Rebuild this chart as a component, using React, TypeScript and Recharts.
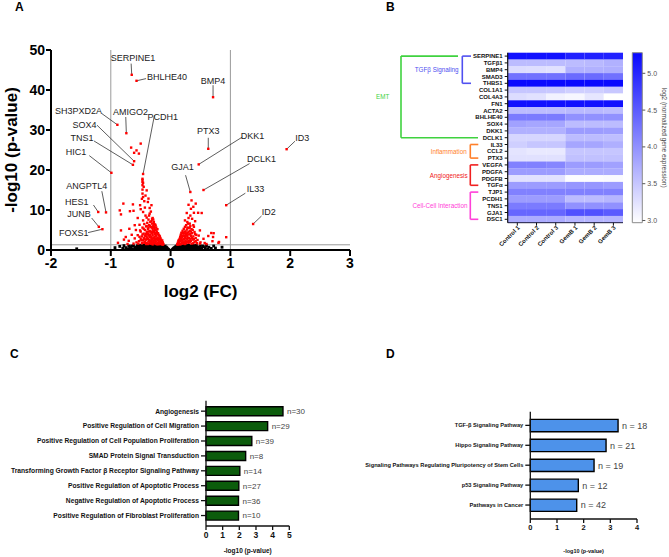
import React from 'react';
import {
  ScatterChart,
  Scatter,
  XAxis,
  YAxis,
  ReferenceLine,
  BarChart,
  Bar,
  Cell,
  LabelList,
} from 'recharts';

const FONT = '"Liberation Sans", Arial, Helvetica, sans-serif';

// ---------------- A: volcano plot ----------------
// [log2 fold change, -log10 p]
const notSignificant: [number, number][] = [
  [-1.57, 0.3], [-0.93, 0.6], [-0.85, 0.9], [-0.8, 0.4], [-0.78, 1.1], [-0.75, 0.6], [-0.72, 0.3],
  [-0.7, 1.0], [-0.68, 0.5], [-0.66, 0.8], [-0.64, 0.2], [-0.62, 1.1], [-0.6, 0.6], [-0.58, 0.4],
  [-0.56, 0.9], [-0.55, 1.2], [-0.53, 0.3], [-0.52, 0.7], [-0.5, 1.0], [-0.49, 0.5], [-0.47, 0.2],
  [-0.46, 0.8], [-0.45, 1.2], [-0.44, 0.4], [-0.43, 0.9], [-0.42, 0.6], [-0.41, 1.1], [-0.4, 0.3],
  [-0.39, 0.7], [-0.38, 1.0], [-0.37, 0.5], [-0.36, 1.25], [-0.35, 0.2], [-0.34, 0.8], [-0.33, 1.1],
  [-0.32, 0.4], [-0.31, 0.9], [-0.3, 0.6], [-0.29, 1.2], [-0.28, 0.3], [-0.27, 0.8], [-0.26, 1.0],
  [-0.25, 0.5], [-0.24, 1.2], [-0.23, 0.2], [-0.22, 0.7], [-0.21, 1.0], [-0.2, 0.4], [-0.19, 0.9],
  [-0.18, 1.2], [-0.17, 0.6], [-0.16, 0.3], [-0.15, 1.0], [-0.14, 0.7], [-0.13, 1.1], [-0.12, 0.4],
  [-0.11, 0.9], [-0.1, 0.6], [-0.09, 1.0], [-0.08, 0.3], [-0.07, 0.7], [-0.06, 0.5], [-0.05, 0.3],
  [-0.04, 0.2], [-0.03, 0.1], [0.03, 0.1], [0.04, 0.25], [0.05, 0.4], [0.06, 0.6], [0.07, 0.3],
  [0.08, 0.8], [0.09, 0.5], [0.1, 1.0], [0.11, 0.7], [0.12, 0.3], [0.13, 1.1], [0.14, 0.6],
  [0.15, 0.9], [0.16, 0.4], [0.17, 1.2], [0.18, 0.7], [0.19, 0.2], [0.2, 1.0], [0.21, 0.5],
  [0.22, 0.8], [0.23, 1.2], [0.24, 0.3], [0.25, 0.9], [0.26, 0.6], [0.27, 1.1], [0.28, 0.4],
  [0.29, 0.8], [0.3, 1.2], [0.31, 0.5], [0.32, 0.9], [0.33, 0.2], [0.34, 1.0], [0.35, 0.6],
  [0.36, 1.2], [0.37, 0.4], [0.38, 0.8], [0.4, 1.0], [0.41, 0.5], [0.43, 1.2], [0.44, 0.3],
  [0.46, 0.8], [0.48, 0.6], [0.5, 1.0], [0.52, 0.4], [0.55, 0.8], [0.58, 0.5], [0.6, 1.1],
  [0.64, 0.7], [0.68, 0.4], [0.72, 1.0], [0.75, 0.5], [0.86, 0.7],
  [-0.7, 0.2], [-0.65, 1.0], [-0.6, 0.2], [-0.57, 0.7], [-0.54, 0.5], [-0.51, 1.2], [-0.48, 0.9],
  [-0.45, 0.6], [-0.42, 0.2], [-0.4, 0.9], [-0.38, 0.4], [-0.35, 0.7], [-0.33, 0.5], [-0.3, 1.0],
  [-0.28, 0.7], [-0.26, 0.3], [-0.24, 0.8], [-0.22, 1.1], [-0.2, 0.7], [-0.18, 0.4], [-0.16, 0.9],
  [-0.14, 0.3], [-0.12, 0.8], [-0.1, 0.3], [-0.08, 0.6], [0.08, 0.5], [0.1, 0.4], [0.12, 0.8],
  [0.14, 0.3], [0.16, 1.0], [0.18, 0.5], [0.2, 0.7], [0.22, 0.3], [0.24, 1.0], [0.26, 0.4],
  [0.28, 1.0], [0.3, 0.3], [0.33, 0.7], [0.36, 0.3], [0.39, 1.1], [0.42, 0.8], [0.45, 0.5],
  [0.5, 0.3], [0.54, 1.0], [0.62, 0.3],
];

const significant: [number, number][] = [
  // down-regulated
  [-0.66, 25.6], [-0.5, 26.6], [-0.61, 24.3], [-0.53, 24.1], [-0.57, 24.9], [-0.47, 17.8],
  [-0.47, 17.0], [-0.47, 16.2], [-0.47, 15.1], [-0.4, 14.9], [-0.47, 14.1], [-0.46, 13.25],
  [-0.37, 12.85], [-0.63, 11.4], [-0.51, 11.2], [-0.32, 11.2], [-0.43, 10.6], [-0.85, 9.9],
  [-0.68, 9.7], [-0.83, 8.9], [-0.79, 11.6], [-0.35, 9.1], [-0.4, 8.1], [-0.46, 7.4], [-0.29, 7.6],
  [-0.6, 6.2], [-0.69, 5.3], [-0.83, 4.9], [-0.75, 3.25], [-0.51, 4.9],
  [-0.12, 1.5], [-0.13, 1.9], [-0.14, 1.4], [-0.15, 2.2], [-0.15, 1.7], [-0.16, 2.6], [-0.17, 1.5],
  [-0.17, 3.0], [-0.18, 2.0], [-0.18, 3.4], [-0.19, 1.6], [-0.19, 2.8], [-0.2, 3.8], [-0.2, 2.3],
  [-0.21, 1.8], [-0.21, 4.2], [-0.22, 3.1], [-0.22, 2.5], [-0.23, 4.6], [-0.23, 1.6], [-0.24, 3.6],
  [-0.24, 2.1], [-0.25, 5.0], [-0.25, 2.9], [-0.26, 4.0], [-0.26, 1.9], [-0.27, 5.5], [-0.27, 3.3],
  [-0.28, 2.4], [-0.28, 4.5], [-0.29, 6.0], [-0.29, 1.7], [-0.3, 3.7], [-0.3, 5.2], [-0.31, 2.7],
  [-0.31, 6.6], [-0.32, 4.2], [-0.32, 2.0], [-0.33, 5.7], [-0.33, 3.1], [-0.34, 7.0], [-0.34, 1.6],
  [-0.35, 4.8], [-0.35, 2.5], [-0.36, 6.2], [-0.36, 3.6], [-0.37, 7.6], [-0.37, 2.1], [-0.38, 5.3],
  [-0.38, 4.0], [-0.39, 3.0], [-0.39, 6.8], [-0.4, 1.8], [-0.4, 4.4], [-0.41, 5.9], [-0.41, 2.6],
  [-0.42, 3.5], [-0.42, 8.6], [-0.43, 2.0], [-0.43, 5.0], [-0.44, 6.5], [-0.44, 3.0], [-0.45, 4.1],
  [-0.46, 2.4], [-0.46, 9.5], [-0.47, 5.6], [-0.48, 3.4], [-0.48, 1.7], [-0.5, 4.6], [-0.5, 2.8],
  [-0.52, 6.3], [-0.53, 2.2], [-0.55, 3.7], [-0.57, 1.9], [-0.58, 5.0], [-0.6, 2.9], [-0.62, 1.6],
  [-0.65, 3.8], [-0.7, 2.3], [-0.72, 1.5], [-0.78, 2.6], [-0.88, 1.8], [-0.55, 8.0], [-0.62, 9.8],
  [-0.28, 7.0], [-0.26, 6.4], [-0.24, 5.6], [-0.22, 5.2], [-0.3, 8.0], [-0.33, 9.6], [-0.35, 10.5],
  [-0.38, 12.0], [-0.44, 12.2], [-0.42, 13.6], [-0.45, 15.8], [-0.46, 16.8], [-0.47, 17.5],
  [-0.48, 12.8], [-0.5, 10.2],
  [-0.13, 1.35], [-0.14, 2.4], [-0.16, 1.9], [-0.17, 2.3], [-0.18, 1.5], [-0.19, 3.6], [-0.2, 1.5],
  [-0.21, 2.9], [-0.22, 1.4], [-0.22, 4.0], [-0.23, 2.7], [-0.24, 4.3], [-0.25, 1.5], [-0.25, 3.6],
  [-0.26, 2.5], [-0.26, 5.0], [-0.27, 1.8], [-0.27, 4.3], [-0.28, 3.0], [-0.28, 5.8], [-0.29, 2.2],
  [-0.29, 4.8], [-0.3, 1.4], [-0.3, 2.9], [-0.31, 4.3], [-0.31, 5.6], [-0.32, 3.3], [-0.32, 1.6],
  [-0.33, 4.6], [-0.33, 2.3], [-0.34, 3.8], [-0.34, 6.0], [-0.35, 1.9], [-0.35, 3.2], [-0.36, 4.6],
  [-0.36, 2.3], [-0.37, 3.9], [-0.37, 5.6], [-0.38, 1.5], [-0.38, 2.8], [-0.39, 4.6], [-0.4, 3.4],
  [-0.4, 6.0], [-0.41, 1.5], [-0.41, 4.0], [-0.42, 2.6], [-0.43, 3.6], [-0.44, 1.8], [-0.45, 2.8],
  [-0.45, 5.3], [-0.47, 3.9], [-0.49, 2.4], [-0.52, 3.3], [-0.54, 1.6], [-0.28, 6.5], [-0.32, 7.2],
  [-0.35, 6.0], [-0.31, 7.8], [-0.36, 8.6], [-0.25, 6.1],
  // up-regulated
  [0.35, 12.4], [0.42, 11.6], [0.27, 9.25], [0.34, 10.3], [0.39, 9.3], [0.46, 9.3], [0.52, 9.25],
  [0.24, 7.4], [0.32, 6.6], [0.38, 6.2], [0.49, 4.9], [0.68, 4.25], [0.71, 3.25], [0.81, 2.0],
  [0.57, 1.75], [0.49, 1.6], [0.3, 8.0], [0.36, 7.8], [0.28, 7.0], [0.41, 7.2], [0.33, 8.6],
  [0.38, 10.8], [0.3, 11.3],
  [0.11, 1.4], [0.12, 1.8], [0.13, 1.5], [0.13, 2.3], [0.14, 1.9], [0.15, 2.8], [0.15, 1.6],
  [0.16, 3.3], [0.16, 2.2], [0.17, 1.5], [0.17, 3.8], [0.18, 2.6], [0.18, 4.3], [0.19, 1.9],
  [0.19, 3.1], [0.2, 4.8], [0.2, 2.4], [0.21, 1.6], [0.21, 3.6], [0.22, 5.3], [0.22, 2.8],
  [0.23, 4.1], [0.23, 1.9], [0.24, 5.8], [0.24, 3.2], [0.25, 2.3], [0.25, 4.6], [0.26, 6.2],
  [0.26, 1.7], [0.27, 3.7], [0.27, 5.1], [0.28, 2.6], [0.28, 4.3], [0.29, 6.6], [0.29, 3.0],
  [0.3, 1.8], [0.3, 5.5], [0.31, 3.9], [0.31, 2.3], [0.32, 4.8], [0.33, 6.0], [0.33, 2.8],
  [0.34, 3.5], [0.35, 5.2], [0.35, 1.6], [0.36, 4.2], [0.37, 2.6], [0.38, 3.4], [0.39, 5.8],
  [0.4, 2.0], [0.41, 4.0], [0.42, 3.0], [0.44, 1.7], [0.45, 2.5], [0.47, 3.6], [0.5, 1.9],
  [0.55, 2.8], [0.6, 1.5], [0.63, 3.5], [0.7, 2.2], [0.72, 4.2], [0.8, 1.8], [0.93, 3.2],
  [0.12, 1.35], [0.14, 2.5], [0.16, 1.4], [0.17, 2.7], [0.18, 3.4], [0.19, 2.4], [0.2, 3.6],
  [0.21, 4.3], [0.22, 1.9], [0.22, 3.5], [0.23, 2.6], [0.24, 1.5], [0.24, 4.6], [0.25, 3.5],
  [0.26, 2.9], [0.26, 4.0], [0.27, 2.0], [0.28, 3.5], [0.28, 5.6], [0.29, 2.1], [0.3, 4.5],
  [0.31, 3.0], [0.32, 2.0], [0.32, 5.6], [0.33, 4.0], [0.34, 2.3], [0.34, 4.6], [0.36, 3.0],
  [0.37, 5.0], [0.38, 1.7], [0.39, 2.7], [0.4, 4.5], [0.42, 2.2], [0.43, 3.8],
];

const namedGenes = [
  { gene: 'SERPINE1', fc: -0.65, p: 43.8 },
  { gene: 'BHLHE40', fc: -0.57, p: 42.3 },
  { gene: 'BMP4', fc: 0.71, p: 38.2 },
  { gene: 'SH3PXD2A', fc: -0.89, p: 31.3 },
  { gene: 'AMIGO2', fc: -0.74, p: 29.2 },
  { gene: 'PCDH1', fc: -0.46, p: 19.0 },
  { gene: 'SOX4', fc: -0.61, p: 22.2 },
  { gene: 'TNS1', fc: -0.63, p: 21.3 },
  { gene: 'HIC1', fc: -0.99, p: 19.3 },
  { gene: 'PTX3', fc: 0.63, p: 25.3 },
  { gene: 'DKK1', fc: 0.47, p: 21.4 },
  { gene: 'ID3', fc: 1.94, p: 25.2 },
  { gene: 'GJA1', fc: 0.33, p: 14.5 },
  { gene: 'DCLK1', fc: 0.55, p: 15.0 },
  { gene: 'IL33', fc: 0.93, p: 11.2 },
  { gene: 'ID2', fc: 1.38, p: 6.5 },
  { gene: 'ANGPTL4', fc: -1.08, p: 9.4 },
  { gene: 'HES1', fc: -1.21, p: 9.5 },
  { gene: 'JUNB', fc: -1.2, p: 5.8 },
  { gene: 'FOXS1', fc: -1.14, p: 5.2 },
];

// callout placement in axis units: text centre and start of the leader line
const calloutLayout: Record<string, { text: [number, number]; lead: [number, number] }> = {
  SERPINE1: { text: [-0.63, 48.0], lead: [-0.66, 46.6] },
  BHLHE40: { text: [-0.06, 43.35], lead: [-0.41, 42.85] },
  BMP4: { text: [0.71, 42.35], lead: [0.71, 41.2] },
  SH3PXD2A: { text: [-1.54, 34.7], lead: [-1.15, 34.1] },
  AMIGO2: { text: [-0.67, 34.6], lead: [-0.75, 33.25] },
  PCDH1: { text: [-0.13, 33.2], lead: [-0.27, 33.7] },
  SOX4: { text: [-1.44, 31.35], lead: [-1.23, 31.2] },
  TNS1: { text: [-1.48, 28.0], lead: [-1.28, 27.25] },
  HIC1: { text: [-1.58, 24.4], lead: [-1.36, 23.6] },
  PTX3: { text: [0.63, 29.75], lead: [0.63, 28.05] },
  DKK1: { text: [1.37, 28.5], lead: [1.2, 28.25] },
  ID3: { text: [2.2, 27.9], lead: [2.08, 27.2] },
  GJA1: { text: [0.2, 20.7], lead: [0.25, 18.7] },
  DCLK1: { text: [1.52, 22.7], lead: [1.32, 21.6] },
  IL33: { text: [1.42, 15.2], lead: [1.25, 14.2] },
  ID2: { text: [1.64, 9.6], lead: [1.52, 8.5] },
  ANGPTL4: { text: [-1.4, 16.0], lead: [-1.15, 14.7] },
  HES1: { text: [-1.57, 12.1], lead: [-1.29, 11.25] },
  JUNB: { text: [-1.53, 8.9], lead: [-1.32, 8.0] },
  FOXS1: { text: [-1.62, 4.2], lead: [-1.38, 4.35] },
};

const fcCutoff = 1;
const pCutoff = -Math.log10(0.05);
const fcTicks = [-2, -1, 0, 1, 2, 3];
const pTicks = [0, 10, 20, 30, 40, 50];

// ---------------- B: heatmap ----------------
const samples = ['Control 1', 'Control 2', 'Control 3', 'GemB 1', 'GemB 2', 'GemB 3'];
const heatGenes = [
  'SERPINE1', 'TGFβ1', 'BMP4', 'SMAD3', 'THBS1', 'COL1A1', 'COL4A3', 'FN1', 'ACTA2', 'BHLHE40',
  'SOX4', 'DKK1', 'DCLK1', 'IL33', 'CCL2', 'PTX3', 'VEGFA', 'PDGFA', 'PDGFB', 'TGFα', 'TJP1',
  'PCDH1', 'TNS1', 'GJA1', 'DSC1',
];
const expression: number[][] = [
  [5.2, 5.2, 5.2, 5.05, 5.05, 5.05],
  [3.6, 3.6, 3.6, 3.6, 3.62, 3.7],
  [3.3, 3.28, 3.25, 3.7, 3.7, 3.72],
  [4.3, 4.3, 4.3, 4.35, 4.35, 4.3],
  [5.27, 5.27, 5.27, 5.27, 5.27, 5.27],
  [3.5, 3.5, 3.48, 3.42, 3.42, 3.48],
  [3.3, 3.25, 3.1, 3.05, 3.2, 2.97],
  [5.2, 5.2, 5.2, 5.2, 5.2, 5.2],
  [3.6, 3.6, 3.6, 3.62, 3.62, 3.6],
  [4.2, 4.2, 4.2, 4.0, 4.0, 4.0],
  [3.85, 3.8, 3.8, 3.6, 3.6, 3.6],
  [3.7, 3.7, 3.7, 3.9, 3.9, 3.88],
  [3.35, 3.35, 3.35, 3.6, 3.6, 3.58],
  [3.42, 3.5, 3.5, 3.8, 3.8, 3.72],
  [3.22, 3.18, 3.18, 3.5, 3.5, 3.5],
  [3.25, 3.25, 3.25, 3.55, 3.55, 3.55],
  [4.15, 4.15, 4.1, 3.9, 3.9, 3.85],
  [3.9, 3.9, 3.9, 3.75, 3.75, 3.75],
  [3.25, 3.25, 3.25, 3.0, 3.0, 3.02],
  [3.9, 3.9, 3.9, 3.95, 3.95, 3.9],
  [4.15, 4.15, 4.15, 4.15, 4.15, 4.15],
  [3.9, 3.9, 3.9, 3.6, 3.6, 3.65],
  [4.2, 4.2, 4.2, 4.0, 4.0, 4.0],
  [4.4, 4.4, 4.4, 4.6, 4.6, 4.5],
  [3.75, 3.75, 3.75, 3.65, 3.65, 3.65],
];
const scaleMin = 2.97;
const scaleMax = 5.28;
const scaleTicks = [3.0, 3.5, 4.0, 4.5, 5.0];

const geneGroups = [
  { name: 'EMT', from: 'SERPINE1', to: 'DCLK1' },
  { name: 'TGFβ Signaling', from: 'SERPINE1', to: 'THBS1' },
  { name: 'Inflammation', from: 'IL33', to: 'PTX3' },
  { name: 'Angiogenesis', from: 'VEGFA', to: 'TGFα' },
  { name: 'Cell-Cell Interaction', from: 'TJP1', to: 'DSC1' },
];
// bracket drawing: x of spine, ends of the two arms, label centre (bracket-panel units)
const bracketStyle: Record<string, { color: string; spine: number; topArm: number; bottomArm: number; labelX: number }> = {
  EMT: { color: '#3fd23f', spine: 41, topArm: 98, bottomArm: 118, labelX: 22.7 },
  'TGFβ Signaling': { color: '#5050f0', spine: 102.3, topArm: 111, bottomArm: 111, labelX: 76.7 },
  Inflammation: { color: '#ff7f2a', spine: 110.3, topArm: 118.3, bottomArm: 118.3, labelX: 88.7 },
  Angiogenesis: { color: '#f02020', spine: 110.3, topArm: 118.3, bottomArm: 118.3, labelX: 88.7 },
  'Cell-Cell Interaction': { color: '#ff40d8', spine: 110.3, topArm: 118.3, bottomArm: 118.3, labelX: 80 },
};

// ---------------- C: GO biological process ----------------
const goTerms = [
  'Angiogenesis',
  'Positive Regulation of Cell Migration',
  'Positive Regulation of Cell Population Proliferation',
  'SMAD Protein Signal Transduction',
  'Transforming Growth Factor β Receptor Signaling Pathway',
  'Positive Regulation of Apoptotic Process',
  'Negative Regulation of Apoptotic Process',
  'Positive Regulation of Fibroblast Proliferation',
];
const goLogP = [4.62, 3.7, 2.75, 2.38, 2.03, 1.97, 1.95, 1.95];
const goCounts = [30, 29, 39, 8, 14, 27, 36, 10];

// ---------------- D: KEGG pathways ----------------
const keggTerms = [
  'TGF-β Signaling Pathway',
  'Hippo Signaling Pathway',
  'Signaling Pathways Regulating Pluripotency of Stem Cells',
  'p53 Signaling Pathway',
  'Pathways in Cancer',
];
const keggLogP = [3.29, 2.84, 2.39, 1.8, 1.74];
const keggCounts = [18, 21, 19, 12, 42];

// ---------------------------------------------------------------

const toPoints = (arr: [number, number][]) => arr.map(([x, y]) => ({ x, y }));

const RedDot = (p: any) =>
  p.cx == null ? null : <rect x={p.cx - 1.2} y={p.cy - 1.2} width={2.4} height={2.4} fill="#ff0000" />;
const BlackDot = (p: any) =>
  p.cx == null ? null : <rect x={p.cx - 1.4} y={p.cy - 1.4} width={2.8} height={2.8} fill="#000" />;
const CalloutText = (p: any) =>
  p.cx == null ? null : (
    <text
      x={p.cx}
      y={p.cy}
      textAnchor="middle"
      dominantBaseline="central"
      fontSize={9}
      fontFamily={FONT}
      fill="#222"
    >
      {p.payload.name}
    </text>
  );

function VolcanoPanel() {
  const black = toPoints(notSignificant);
  const red = [...toPoints(significant), ...namedGenes.map((g) => ({ x: g.fc, y: g.p }))];
  const labels = namedGenes.map((g) => ({
    x: calloutLayout[g.gene].text[0],
    y: calloutLayout[g.gene].text[1],
    name: g.gene,
  }));
  const axisFont = { fill: '#000', fontSize: 14, fontWeight: 700, fontFamily: FONT };
  const titleStyle = { fontSize: 17, fontWeight: 700, fill: '#000', fontFamily: FONT, textAnchor: 'middle' as const };
  return (
    <ScatterChart width={360} height={305} margin={{ top: 50, right: 10, bottom: 0, left: 0 }}>
      <XAxis
        type="number"
        dataKey="x"
        domain={[-2, 3]}
        ticks={fcTicks}
        height={55}
        tick={axisFont}
        tickSize={6}
        tickMargin={2}
        axisLine={{ stroke: '#000', strokeWidth: 2 }}
        tickLine={{ stroke: '#000', strokeWidth: 2 }}
        label={{ value: 'log2 (FC)', position: 'insideBottom', offset: 8, style: titleStyle }}
      />
      <YAxis
        type="number"
        dataKey="y"
        domain={[0, 50]}
        ticks={pTicks}
        width={51}
        tick={axisFont}
        tickSize={5}
        tickMargin={1}
        axisLine={{ stroke: '#000', strokeWidth: 2 }}
        tickLine={{ stroke: '#000', strokeWidth: 2 }}
        label={{ value: '-log10 (p-value)', angle: -90, position: 'insideLeft', offset: 11, style: titleStyle }}
      />
      <ReferenceLine x={-fcCutoff} stroke="#9a9a9a" strokeWidth={1} />
      <ReferenceLine x={fcCutoff} stroke="#9a9a9a" strokeWidth={1} />
      <ReferenceLine y={pCutoff} stroke="#9a9a9a" strokeWidth={1} />
      <Scatter data={black} shape={BlackDot} isAnimationActive={false} />
      <Scatter data={red} shape={RedDot} isAnimationActive={false} />
      {namedGenes.map((g) => (
        <ReferenceLine
          key={g.gene}
          segment={[
            { x: calloutLayout[g.gene].lead[0], y: calloutLayout[g.gene].lead[1] },
            { x: g.fc, y: g.p },
          ]}
          stroke="#333"
          strokeWidth={0.8}
        />
      ))}
      <Scatter data={labels} shape={CalloutText} isAnimationActive={false} />
    </ScatterChart>
  );
}

function heatColor(v: number) {
  const t = Math.max(0, Math.min(1, (v - scaleMin) / (scaleMax - scaleMin)));
  const c = Math.round(255 - (255 - 8) * t);
  return `rgb(${c},${c},255)`;
}

const GeneTick = (p: any) => (
  <text
    x={p.x}
    y={p.y}
    dy="0.35em"
    textAnchor="end"
    fontSize={6}
    fontWeight={700}
    fontFamily={FONT}
    fill="#111"
  >
    {p.payload.value}
  </text>
);

const SampleTick = (p: any) => (
  <g transform={`translate(${p.x},${p.y})`}>
    <text
      x={1}
      y={3}
      transform="rotate(-45)"
      textAnchor="end"
      fontSize={6}
      fontWeight={700}
      fontFamily={FONT}
      fill="#111"
    >
      {samples[Math.floor(p.payload.value)]}
    </text>
  </g>
);

function HeatmapPanel() {
  const rows = heatGenes.map((gene) => {
    const row: Record<string, any> = { gene };
    samples.forEach((s) => {
      row[s] = 1; // each sample occupies one column unit
    });
    return row;
  });
  const frame = '#1b1b3c';
  return (
    <BarChart
      layout="vertical"
      width={190}
      height={230}
      data={rows}
      margin={{ top: 12.7, right: 7, bottom: 0, left: 0 }}
      barCategoryGap={0}
    >
      <XAxis
        type="number"
        domain={[0, samples.length]}
        ticks={samples.map((_, j) => j + 0.5)}
        height={47.3}
        tick={<SampleTick />}
        tickSize={3}
        tickMargin={1}
        axisLine={{ stroke: frame }}
        tickLine={{ stroke: '#111' }}
        interval={0}
      />
      <XAxis xAxisId="top" orientation="top" type="number" domain={[0, samples.length]} height={0} tick={false} tickLine={false} axisLine={{ stroke: frame }} />
      <YAxis
        type="category"
        dataKey="gene"
        width={67.7}
        interval={0}
        tick={<GeneTick />}
        tickSize={3}
        tickMargin={2}
        axisLine={{ stroke: '#111', strokeWidth: 1.2 }}
        tickLine={{ stroke: '#111' }}
      />
      <YAxis yAxisId="right" orientation="right" type="category" dataKey="gene" width={0} tick={false} tickLine={false} axisLine={{ stroke: frame }} />
      {samples.map((s, j) => (
        <Bar key={s} dataKey={s} stackId="cells" isAnimationActive={false}>
          {heatGenes.map((g, i) => (
            <Cell key={g} fill={heatColor(expression[i][j])} />
          ))}
        </Bar>
      ))}
    </BarChart>
  );
}

function ColorScalePanel() {
  const data = [{ name: 'scale', range: [scaleMin, scaleMax] }];
  return (
    <BarChart width={44} height={230} data={data} margin={{ top: 12.7, right: 0, bottom: 47.3, left: 7.3 }} barCategoryGap={0}>
      <defs>
        <linearGradient id="heatScale" x1="0" y1="0" x2="0" y2="1">
          <stop offset="0" stopColor={heatColor(scaleMax)} />
          <stop offset="1" stopColor={heatColor(scaleMin)} />
        </linearGradient>
      </defs>
      <XAxis dataKey="name" hide />
      <YAxis
        orientation="right"
        type="number"
        domain={[scaleMin, scaleMax]}
        ticks={scaleTicks}
        tickFormatter={(v: number) => v.toFixed(1)}
        width={26.7}
        axisLine={false}
        tickSize={3}
        tickMargin={2}
        tickLine={{ stroke: '#555' }}
        tick={{ fontSize: 7, fill: '#555', fontFamily: FONT }}
        label={{
          value: 'log2 (normalized gene expression)',
          angle: 90,
          position: 'insideRight',
          offset: 5,
          style: { fontSize: 6.5, fill: '#444', fontFamily: FONT, textAnchor: 'middle' },
        }}
      />
      <Bar dataKey="range" fill="url(#heatScale)" stroke="#8a8a8a" strokeWidth={1} isAnimationActive={false} />
    </BarChart>
  );
}

const GroupLabel = (p: any) =>
  p.cx == null ? null : (
    <text
      x={p.cx}
      y={p.cy}
      textAnchor="middle"
      dominantBaseline="central"
      fontSize={6.3}
      fontFamily={FONT}
      fill={bracketStyle[p.payload.name].color}
    >
      {p.payload.name}
    </text>
  );

function BracketPanel() {
  const labels = geneGroups.map((g) => ({
    x: bracketStyle[g.name].labelX,
    row: (heatGenes.indexOf(g.from) + heatGenes.indexOf(g.to)) / 2,
    name: g.name,
  }));
  return (
    <ScatterChart width={150} height={230} margin={{ top: 12.7, right: 0, bottom: 47.3, left: 0 }}>
      <XAxis type="number" dataKey="x" domain={[0, 150]} hide />
      <YAxis type="number" dataKey="row" domain={[-0.5, heatGenes.length - 0.5]} reversed hide />
      {geneGroups.map((g) => {
        const a = heatGenes.indexOf(g.from);
        const b = heatGenes.indexOf(g.to);
        const st = bracketStyle[g.name];
        const common = { stroke: st.color, strokeWidth: 1.6, ifOverflow: 'visible' as const };
        return (
          <React.Fragment key={g.name}>
            <ReferenceLine segment={[{ x: st.spine, y: a }, { x: st.spine, y: b }]} {...common} />
            <ReferenceLine segment={[{ x: st.spine, y: a }, { x: st.topArm, y: a }]} {...common} />
            <ReferenceLine segment={[{ x: st.spine, y: b }, { x: st.bottomArm, y: b }]} {...common} />
          </React.Fragment>
        );
      })}
      <Scatter data={labels} shape={GroupLabel} isAnimationActive={false} />
    </ScatterChart>
  );
}

const TermTick = (size: number) => (p: any) => (
  <text
    x={p.x}
    y={p.y}
    dy="0.35em"
    textAnchor="end"
    fontSize={size}
    fontWeight={700}
    fontFamily={FONT}
    fill="#111"
  >
    {p.payload.value}
  </text>
);

function EnrichmentPanel(props: {
  terms: string[];
  logp: number[];
  counts: number[];
  width: number;
  height: number;
  margin: { top: number; right: number; bottom: number; left: number };
  axisWidth: number;
  axisHeight: number;
  xMax: number;
  fill: string;
  barSize: number;
  pad: { top: number; bottom: number };
  termFont: number;
  tickFont: number;
  titleFont: number;
  countFont: number;
  countText: (n: number) => string;
}) {
  const rows = props.terms.map((term, i) => ({ term, logp: props.logp[i], count: props.counts[i] }));
  const ticks = Array.from({ length: props.xMax + 1 }, (_, i) => i);
  const TickComp = TermTick(props.termFont);
  return (
    <BarChart layout="vertical" width={props.width} height={props.height} data={rows} margin={props.margin}>
      <XAxis
        type="number"
        domain={[0, props.xMax]}
        ticks={ticks}
        height={props.axisHeight}
        tickSize={4}
        tickMargin={2}
        axisLine={{ stroke: '#111', strokeWidth: 1.3 }}
        tickLine={{ stroke: '#111', strokeWidth: 1.3 }}
        tick={{ fontSize: props.tickFont, fontWeight: 700, fill: '#111', fontFamily: FONT }}
        label={{
          value: '-log10 (p-value)',
          position: 'insideBottom',
          offset: 4,
          style: { fontSize: props.titleFont, fontWeight: 700, fill: '#111', fontFamily: FONT, textAnchor: 'middle' },
        }}
      />
      <YAxis
        type="category"
        dataKey="term"
        width={props.axisWidth}
        interval={0}
        padding={props.pad}
        tick={<TickComp />}
        tickSize={5}
        tickMargin={2}
        axisLine={{ stroke: '#111', strokeWidth: 1.3 }}
        tickLine={{ stroke: '#111', strokeWidth: 1.3 }}
      />
      <Bar dataKey="logp" fill={props.fill} stroke="#000" strokeWidth={1.4} barSize={props.barSize} isAnimationActive={false}>
        <LabelList
          dataKey="count"
          position="right"
          offset={4}
          formatter={(n: any) => props.countText(n)}
          style={{ fontSize: props.countFont, fill: '#444', fontFamily: FONT }}
        />
      </Bar>
    </BarChart>
  );
}

const letterStyle: React.CSSProperties = {
  position: 'absolute',
  fontFamily: FONT,
  fontWeight: 700,
  fontSize: 12,
  lineHeight: '12px',
  color: '#000',
};

export default function App() {
  return (
    <div
      style={{
        position: 'absolute',
        left: 0,
        top: 0,
        width: 669,
        height: 557,
        background: '#fff',
        overflow: 'hidden',
        fontFamily: FONT,
      }}
    >
      <div style={{ position: 'absolute', left: 0, top: 0 }}>
        <VolcanoPanel />
      </div>
      <div style={{ position: 'absolute', left: 440, top: 40 }}>
        <HeatmapPanel />
      </div>
      <div style={{ position: 'absolute', left: 360, top: 40 }}>
        <BracketPanel />
      </div>
      <div style={{ position: 'absolute', left: 625, top: 40 }}>
        <ColorScalePanel />
      </div>
      <div style={{ position: 'absolute', left: 0, top: 380 }}>
        <EnrichmentPanel
          terms={goTerms}
          logp={goLogP}
          counts={goCounts}
          width={340}
          height={177}
          margin={{ top: 20.7, right: 50.7, bottom: 0, left: 0 }}
          axisWidth={206}
          axisHeight={31}
          xMax={5}
          fill="#0c5c0c"
          barSize={9}
          pad={{ top: 3, bottom: 3 }}
          termFont={6.7}
          tickFont={8.5}
          titleFont={6.5}
          countFont={8}
          countText={(n) => `n=${n}`}
        />
      </div>
      <div style={{ position: 'absolute', left: 340, top: 380 }}>
        <EnrichmentPanel
          terms={keggTerms}
          logp={keggLogP}
          counts={keggCounts}
          width={329}
          height={177}
          margin={{ top: 31.7, right: 32, bottom: 0, left: 0 }}
          axisWidth={190.3}
          axisHeight={38}
          xMax={4}
          fill="#4d92ea"
          barSize={12.3}
          pad={{ top: 3.7, bottom: 4 }}
          termFont={5.7}
          tickFont={7.5}
          titleFont={5.5}
          countFont={9}
          countText={(n) => `n = ${n}`}
        />
      </div>
      <div style={{ ...letterStyle, left: 15, top: 1 }}>A</div>
      <div style={{ ...letterStyle, left: 386, top: 1 }}>B</div>
      <div style={{ ...letterStyle, left: 10, top: 348 }}>C</div>
      <div style={{ ...letterStyle, left: 386, top: 348 }}>D</div>
    </div>
  );
}
